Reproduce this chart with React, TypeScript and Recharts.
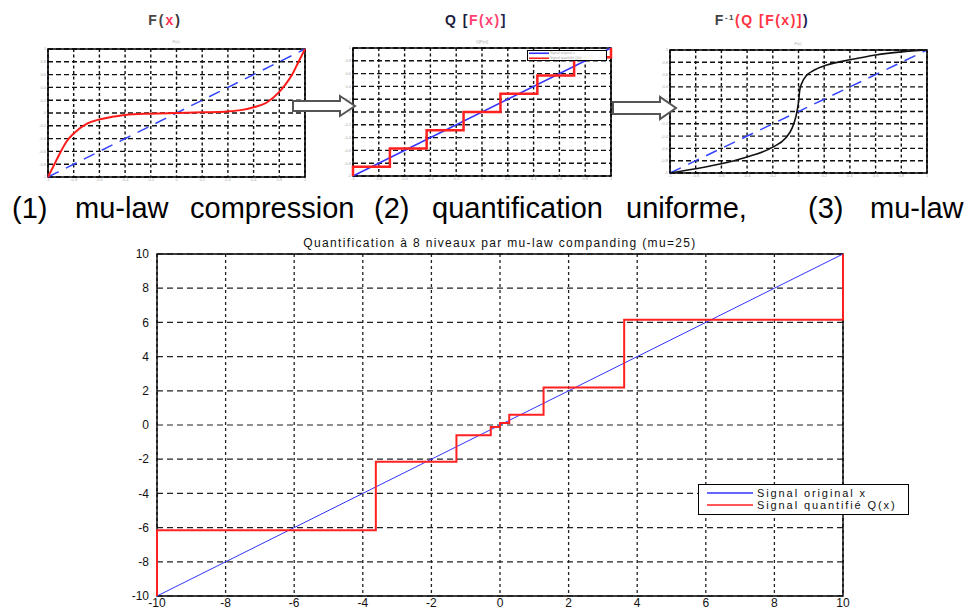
import React from 'react';
import { LineChart, Line, XAxis, YAxis, CartesianGrid, ReferenceArea, Legend } from 'recharts';

// ---------- main chart data ----------
const mainTicks = [-10, -8, -6, -4, -2, 0, 2, 4, 6, 8, 10];
const originalX = [-10, 10];
const originalY = [-10, 10];
const quantStepX = [-10, -10, -3.62, -1.27, -0.27, 0, 0.27, 1.27, 3.62, 10];
const quantStepY = [-10, -6.15, -2.15, -0.6, -0.12, 0.12, 0.6, 2.2, 6.15, 10];

// ---------- small charts data ----------
const unitTicks = [-1, -0.8, -0.6, -0.4, -0.2, 0, 0.2, 0.4, 0.6, 0.8, 1];
const unitDiagX = [-1, 1];
const unitDiagY = [-1, 1];
const compressX = [-1, -0.95, -0.9, -0.85, -0.8, -0.7, -0.6, -0.5, -0.4, -0.2, 0, 0.2, 0.4, 0.5, 0.6, 0.7, 0.8, 0.85, 0.9, 0.95, 1];
const compressY = [-1, -0.8, -0.6, -0.43, -0.32, -0.17, -0.1, -0.06, -0.03, -0.01, 0, 0.01, 0.025, 0.045, 0.09, 0.16, 0.33, 0.45, 0.6, 0.8, 1];
const uniformQX = [-1, -1, -0.714, -0.429, -0.143, 0.143, 0.429, 0.714, 1];
const uniformQY = [-1, -0.857, -0.571, -0.286, 0, 0.286, 0.571, 0.857, 1];
const expandX = [-1, -0.8, -0.6, -0.4, -0.2, -0.1, -0.05, -0.02, 0, 0.01, 0.03, 0.06, 0.12, 0.22, 0.4, 0.6, 0.8, 1];
const expandY = [-1, -0.93, -0.85, -0.74, -0.58, -0.43, -0.27, -0.08, 0.15, 0.35, 0.48, 0.58, 0.67, 0.755, 0.84, 0.92, 0.97, 1];

// ---------- texts ----------
const mainTitle = 'Quantification à 8 niveaux par mu-law companding (mu=25)';
const mainSeriesNames = ['Signal original x', 'Signal quantifié Q(x)'];
const smallLegendNames = ['Signal original x', 'Signal quantifié Q(x)'];
const captionWords = ['(1)', 'mu-law', 'compression', '(2)', 'quantification', 'uniforme,', '(3)', 'mu-law'];
const captionWordX = [12, 75, 190, 374, 432, 626, 808, 870];

const zip = (xs: number[], ys: number[]) => xs.map((x, i) => ({ x, y: ys[i] }));

const FONT = '"Liberation Sans", Arial, Helvetica, sans-serif';

function smallFrame(k: string) {
  return [
    <CartesianGrid key={k + 'h'} vertical={false} stroke="#111" strokeWidth={1.4} strokeDasharray="5 3" />,
    <CartesianGrid key={k + 'v'} horizontal={false} stroke="#111" strokeWidth={1.4} strokeDasharray="3 2.5" />,
    <XAxis key={k + 'x'} type="number" dataKey="x" domain={[-1, 1]} ticks={unitTicks} interval={0}
      tickLine={false} axisLine={false} tickSize={0} tickMargin={1} height={8}
      tick={{ fontSize: 4, fill: '#aaa' }} />,
    <YAxis key={k + 'y'} type="number" domain={[-1, 1]} ticks={unitTicks} interval={0}
      tickLine={false} axisLine={false} tickSize={0} tickMargin={2} width={12}
      tick={{ fontSize: 4, fill: '#aaa' }} />,
    <ReferenceArea key={k + 'b'} x1={-1} x2={1} y1={-1} y2={1} fill="none" fillOpacity={0} stroke="#000" strokeWidth={1.6} />,
  ];
}

const MainLegend = (props: any) => {
  const payload = (props && props.payload && props.payload.length) ? props.payload
    : [{ value: mainSeriesNames[0], color: '#3333ff' }, { value: mainSeriesNames[1], color: '#ff2020' }];
  return (
    <div style={{ width: 211, height: 31, boxSizing: 'border-box', border: '1.3px solid #000', background: '#fff', paddingTop: 2 }}>
      {payload.map((p: any, i: number) => (
        <div key={i} style={{ display: 'flex', alignItems: 'center', height: 12 }}>
          <svg width={58} height={12} style={{ display: 'block' }}>
            <line x1={8} x2={54} y1={6} y2={6} stroke={p.color} strokeWidth={1.3} />
          </svg>
          <span style={{ fontSize: 11, letterSpacing: 1.9, color: '#111', fontFamily: FONT, lineHeight: '12px', whiteSpace: 'nowrap' }}>{p.value}</span>
        </div>
      ))}
    </div>
  );
};

const SmallLegend = (props: any) => {
  const payload = (props && props.payload && props.payload.length) ? props.payload
    : [{ value: smallLegendNames[0], color: '#3333ff' }, { value: smallLegendNames[1], color: '#ff2020' }];
  return (
    <div style={{ width: 80, height: 11, boxSizing: 'border-box', border: '1.5px solid #000', background: '#fff', paddingTop: 0 }}>
      {payload.map((p: any, i: number) => (
        <div key={i} style={{ display: 'flex', alignItems: 'center', height: 4.5 }}>
          <svg width={22} height={4.5} style={{ display: 'block' }}>
            <line x1={1} x2={21} y1={2.25} y2={2.25} stroke={p.color} strokeWidth={1.6} />
          </svg>
          <span style={{ fontSize: 3.5, color: '#aaa', fontFamily: FONT, lineHeight: '4.5px', whiteSpace: 'nowrap' }}>{p.value}</span>
        </div>
      ))}
    </div>
  );
};

export default function App() {
  const origData = zip(originalX, originalY);
  const stepData = zip(quantStepX, quantStepY);
  const diagUnit = zip(unitDiagX, unitDiagY);
  const compData = zip(compressX, compressY);
  const uqData = zip(uniformQX, uniformQY);
  const expData = zip(expandX, expandY);

  return (
    <div style={{ position: 'absolute', left: 0, top: 0, width: 968, height: 608, background: '#fff', overflow: 'hidden', fontFamily: FONT }}>
      {/* chart 1: F(x) */}
      <div style={{ position: 'absolute', left: 0, top: 0 }}>
        <LineChart width={330} height={190} margin={{ top: 49, right: 25, bottom: 5, left: 36 }}>
          {smallFrame('c1')}
          <Line data={diagUnit} dataKey="y" stroke="#3344ff" strokeWidth={1.5} strokeDasharray="12 8" dot={false} isAnimationActive={false} />
          <Line data={compData} dataKey="y" type="monotone" stroke="#ff1a1a" strokeWidth={2} dot={false} isAnimationActive={false} />
        </LineChart>
      </div>
      {/* chart 2: Q[F(x)] */}
      <div style={{ position: 'absolute', left: 320, top: 0 }}>
        <LineChart width={320} height={190} margin={{ top: 48, right: 29, bottom: 6, left: 21 }}>
          {smallFrame('c2')}
          <Line data={diagUnit} dataKey="y" name={smallLegendNames[0]} stroke="#3333ff" strokeWidth={1.5} dot={false} isAnimationActive={false} />
          <Line data={uqData} dataKey="y" name={smallLegendNames[1]} type="stepAfter" stroke="#ff2020" strokeWidth={2.5} dot={false} isAnimationActive={false} />
          <Legend layout="vertical" align="center" verticalAlign="middle"
            wrapperStyle={{ left: 207, top: 50, width: 80, height: 11, bottom: 'auto', right: 'auto' }}
            content={SmallLegend} />
        </LineChart>
      </div>
      {/* chart 3: F^-1(Q[F(x)]) */}
      <div style={{ position: 'absolute', left: 640, top: 0 }}>
        <LineChart width={328} height={190} margin={{ top: 50, right: 41, bottom: 9, left: 18 }}>
          {smallFrame('c3')}
          <Line data={diagUnit} dataKey="y" stroke="#3344ff" strokeWidth={1.5} strokeDasharray="12 8" dot={false} isAnimationActive={false} />
          <Line data={expData} dataKey="y" type="monotone" stroke="#111" strokeWidth={1.6} dot={false} isAnimationActive={false} />
        </LineChart>
      </div>

      {/* main chart */}
      <div style={{ position: 'absolute', left: 0, top: 230 }}>
        <LineChart width={968} height={378} margin={{ top: 24, right: 125, bottom: 0, left: 117 }}>
          <CartesianGrid vertical={false} stroke="#222" strokeWidth={1.2} strokeDasharray="6 4" />
          <CartesianGrid horizontal={false} stroke="#222" strokeWidth={1.3} strokeDasharray="3 3" />
          <XAxis type="number" dataKey="x" domain={[-10, 10]} ticks={mainTicks} interval={0}
            tickLine={false} axisLine={false} tickSize={0} tickMargin={2} height={12}
            tick={{ fontSize: 12, fill: '#111' }} />
          <YAxis type="number" domain={[-10, 10]} ticks={mainTicks} interval={0}
            tickLine={false} axisLine={false} width={40}
            tick={{ fontSize: 12, fill: '#111' }} />
          <ReferenceArea x1={-10} x2={10} y1={-10} y2={10} fill="none" fillOpacity={0} stroke="#000" strokeWidth={1.4} />
          <Line data={origData} dataKey="y" name={mainSeriesNames[0]} stroke="#3333ff" strokeWidth={1} dot={false} isAnimationActive={false} />
          <Line data={stepData} dataKey="y" name={mainSeriesNames[1]} type="stepAfter" stroke="#ff2020" strokeWidth={2} dot={false} isAnimationActive={false} />
          <Legend layout="vertical" align="center" verticalAlign="middle"
            wrapperStyle={{ left: 698, top: 254, width: 211, height: 31, bottom: 'auto', right: 'auto' }}
            content={MainLegend} />
        </LineChart>
      </div>
      <div style={{ position: 'absolute', left: 157, top: 236, width: 686, textAlign: 'center', fontSize: 12, letterSpacing: 1.35, color: '#111', lineHeight: '14px', whiteSpace: 'nowrap' }}>
        {mainTitle}
      </div>

      {/* overlay: titles, arrows, caption */}
      <svg width={968} height={608} style={{ position: 'absolute', left: 0, top: 0, pointerEvents: 'none' }}>
        <text x={165} y={25} textAnchor="middle" fontSize={14} fontWeight="bold" letterSpacing={2} fontFamily={FONT}>
          <tspan fill="#4a4444">F(</tspan><tspan fill="#ff3355">x</tspan><tspan fill="#333">)</tspan>
        </text>
        <text x={476} y={25} textAnchor="middle" fontSize={14} fontWeight="bold" letterSpacing={1.5} fontFamily={FONT}>
          <tspan fill="#1c1c3c">Q [</tspan><tspan fill="#ff4070">F(x)</tspan><tspan fill="#22224f">]</tspan>
        </text>
        <text x={762} y={25} textAnchor="middle" fontSize={14} fontWeight="bold" letterSpacing={1.5} fontFamily={FONT}>
          <tspan fill="#444">F</tspan><tspan fill="#444" fontSize={8} dy={-5}>-1</tspan><tspan fill="#ff3344" dy={5}>(Q [F(x)]</tspan><tspan fill="#22224f">)</tspan>
        </text>
        {/* tiny inner titles */}
        <text x={176} y={43} textAnchor="middle" fontSize={4} fill="#aaa" fontFamily={FONT}>F(x)</text>
        <text x={482} y={43} textAnchor="middle" fontSize={4} fill="#aaa" fontFamily={FONT}>Q[F(x)]</text>
        <text x={798} y={45} textAnchor="middle" fontSize={4} fill="#aaa" fontFamily={FONT}>F(x)</text>

        {/* arrows */}
        <polygon points="293,101 340,101 340,96 355,106 340,116 340,111 293,111" fill="#fff" stroke="#555" strokeWidth={2} strokeLinejoin="miter" />
        <polygon points="613,102 660,102 660,97 676,108 660,119 660,114 613,114" fill="#fff" stroke="#555" strokeWidth={2} strokeLinejoin="miter" />

        {/* caption */}
        <text y={218} fontSize={29} fill="#000" fontFamily={FONT}>
          {captionWords.map((w, i) => (
            <tspan key={i} x={captionWordX[i]}>{w}</tspan>
          ))}
        </text>
      </svg>
    </div>
  );
}
